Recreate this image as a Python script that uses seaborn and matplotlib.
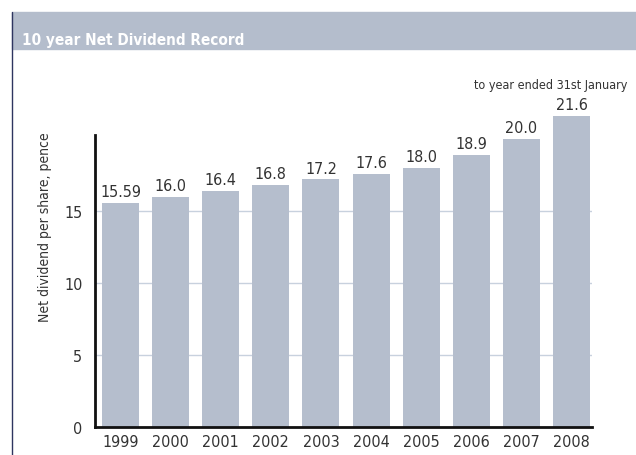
import matplotlib.pyplot as plt
import matplotlib.patches as mpatches
import matplotlib.lines as mlines
import pandas as pd
import seaborn as sns

# Data
years = ['1999', '2000', '2001', '2002', '2003', '2004', '2005', '2006', '2007', '2008']
dividends = [15.59, 16.0, 16.4, 16.8, 17.2, 17.6, 18.0, 18.9, 20.0, 21.6]
labels = ['15.59', '16.0', '16.4', '16.8', '17.2', '17.6', '18.0', '18.9', '20.0', '21.6']
yticks = [0, 5, 10, 15]

df = pd.DataFrame({'year': years, 'value': dividends})

sns.set_style('white')
plt.rcParams['font.family'] = ['DejaVu Sans']
plt.rcParams['font.stretch'] = 'condensed'

bar_color = '#b5becd'
text_color = '#333333'

fig = plt.figure(figsize=(6.36, 4.56), dpi=100)
ax = fig.add_axes([0.1494, 0.0614, 0.7814, 0.7105])

# grid behind bars
for t in yticks[1:]:
  ax.axhline(t, color='#c8d1de', linewidth=1, zorder=0)

sns.barplot(data=df, x='year', y='value', color=bar_color, width=0.74,
            saturation=1, linewidth=0, ax=ax, zorder=2)

for i, (v, lab) in enumerate(zip(dividends, labels)):
  ax.text(i, v + 0.25, lab, ha='center', va='bottom', fontsize=11.5,
          color=text_color)

ax.set_xlim(-0.51, 9.41)
ax.set_ylim(0, 22.5)
ax.set_yticks(yticks)
ax.tick_params(axis='both', length=0, labelsize=11.5, labelcolor=text_color)
ax.tick_params(axis='y', pad=9)
ax.tick_params(axis='x', pad=5)
ax.set_xlabel('')
ax.set_ylabel('Net dividend per share, pence', fontsize=10,
              color=text_color, labelpad=9)
ax.yaxis.label.set_y(0.62)

for s in ['top', 'right']:
  ax.spines[s].set_visible(False)
ax.spines['left'].set_bounds(0, 20.3)
ax.spines['left'].set_linewidth(2)
ax.spines['bottom'].set_linewidth(2)
ax.spines['left'].set_color('#111111')
ax.spines['bottom'].set_color('#111111')

fig.text(627 / 636, 1 - 85 / 456, 'to year ended 31st January',
         ha='right', va='center', fontsize=9, color=text_color)

# header band and frame
fig.add_artist(mpatches.Rectangle((12 / 636, 1 - 50 / 456), 1, 37 / 456,
                                  transform=fig.transFigure,
                                  color='#b4bdcc', zorder=0))
fig.add_artist(mlines.Line2D([12 / 636, 12 / 636], [0, 1 - 13 / 456],
                             transform=fig.transFigure, color='#2e3560',
                             linewidth=1))
fig.text(22 / 636, 1 - 40 / 456, '10 year Net Dividend Record',
         fontsize=11, fontweight='bold', color='white', va='center')

fig.savefig('out.png', dpi=100)
